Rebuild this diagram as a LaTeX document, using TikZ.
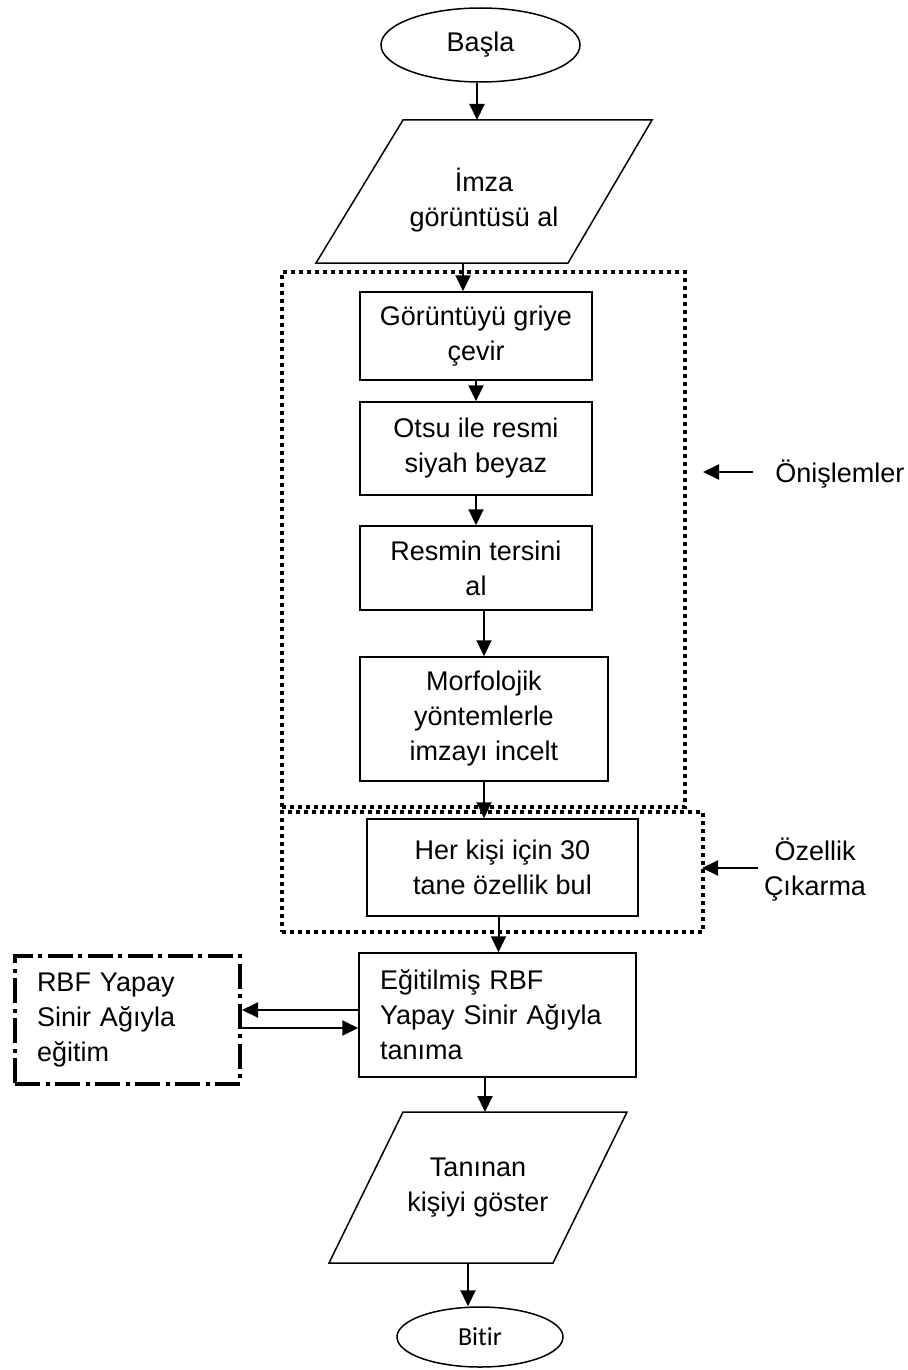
\documentclass[tikz,border=0pt]{standalone}
\usepackage{fontspec}
\setmainfont{Liberation Sans}
\newfontfamily\calibri[Ligatures=NoCommon]{Carlito}
\usetikzlibrary{arrows.meta,shapes.geometric}

\begin{document}
\begin{tikzpicture}[x=0.5pt,y=-0.5pt,>={Triangle[length=8pt,width=7.5pt]},line join=miter,
  box/.style={draw,line width=0.75pt,align=center,inner sep=0pt,font=\fontsize{13.5}{17.5}\selectfont},
  term/.style={draw,ellipse,line width=0.75pt,inner sep=0pt},
  flow/.style={->,line width=1pt},
  dotframe/.style={draw,line width=2pt,dash pattern=on 2pt off 2pt,inner sep=0pt},
  dashframe/.style={draw,line width=2pt,dash pattern=on 12.5pt off 3pt on 2pt off 2.5pt},
  txt/.style={align=center,inner sep=0pt,font=\fontsize{13.5}{17.5}\selectfont}]
\useasboundingbox (0,0) rectangle (907,1370);
% frames
\node[dotframe,minimum width=201.5pt,minimum height=267.5pt] (pre) at (483.5,539.5) {};
\node[dotframe,minimum width=210.5pt,minimum height=60pt] (ext) at (492.5,872) {};
% start and input
\node[term,minimum width=99.5pt,minimum height=37pt,font=\fontsize{13.5}{16}\selectfont] (start) at (480.5,45) {Başla};
\draw[line width=0.75pt] (403,120) -- (652,120) -- (568,263) -- (316,263) -- cycle;
\node[txt] (img) at (484,200) {İmza\\görüntüsü al};
\coordinate (imgtop) at (477,120);
\coordinate (imgbot) at (463,263);
% preprocessing
\node[box,minimum width=116pt,minimum height=44pt] (gray) at (476,336) {Görüntüyü griye\\çevir};
\node[box,minimum width=116pt,minimum height=46.5pt] (otsu) at (476,448.5) {Otsu ile resmi\\siyah beyaz};
\node[box,minimum width=116pt,minimum height=42pt] (inv) at (476,568) {Resmin tersini\\al};
\node[box,minimum width=124pt,minimum height=62pt] (morph) at (484,719) {Morfolojik\\yöntemlerle\\imzayı incelt};
% features
\node[box,minimum width=135.5pt,minimum height=48.5pt] (feat) at (502.5,867.5) {Her kişi için 30\\tane özellik bul};
% recognition
\node[box,align=left,text width=117.5pt,inner xsep=10.5pt,minimum height=62pt] (recog) at (497.5,1015) {Eğitilmiş RBF\\Yapay Sinir Ağıyla\\tanıma};
\node[box,dashframe,align=left,text width=90.5pt,inner xsep=11pt,minimum height=64pt] (train) at (127.5,1020) {RBF Yapay\\Sinir Ağıyla\\eğitim};
% output and end
\draw[line width=0.75pt] (403,1112) -- (627,1112) -- (553,1263) -- (329,1263) -- cycle;
\node[txt] (show) at (478,1188) {Tanınan\\kişiyi göster};
\coordinate (showtop) at (485,1112);
\coordinate (showbot) at (468,1263);
\node[term,minimum width=83pt,minimum height=30pt,font=\calibri\fontsize{13}{16}\selectfont] (stop) at (480,1337) {Bitir};
% side labels
\node[txt,anchor=base west] (prelbl) at (775,482) {Önişlemler};
\coordinate (pretip) at (703,472);
\node[txt] (extlbl) at (815,870) {Özellik\\Çıkarma};
\coordinate (exttip) at (702,868);
% connectors
\draw[flow] (start.south -| imgtop) -- (imgtop);
\draw[flow] (imgbot) -- (imgbot |- gray.north);
\draw[flow] (gray) -- (otsu);
\draw[flow] (otsu) -- (inv);
\draw[flow] (morph.north |- inv.south) -- (morph.north);
\draw[flow] (morph.south) -- (morph.south |- feat.north);
\draw[flow] ([xshift=-2pt]feat.south) -- ([xshift=-2pt]feat.south |- recog.north);
\draw[flow] (recog.south -| showtop) -- (showtop);
\draw[flow] (showbot) -- (showbot |- stop.north);
\draw[flow] ([yshift=5pt]train.east -| recog.west) -- ([yshift=5pt]train.east);
\draw[flow] ([yshift=-4pt]train.east) -- ([yshift=-4pt]train.east -| recog.west);
\draw[flow,shorten <=11pt] (prelbl.west |- pretip) -- (pretip);
\draw[flow,shorten <=3pt] (extlbl.west |- exttip) -- (exttip);
\end{tikzpicture}
\end{document}
